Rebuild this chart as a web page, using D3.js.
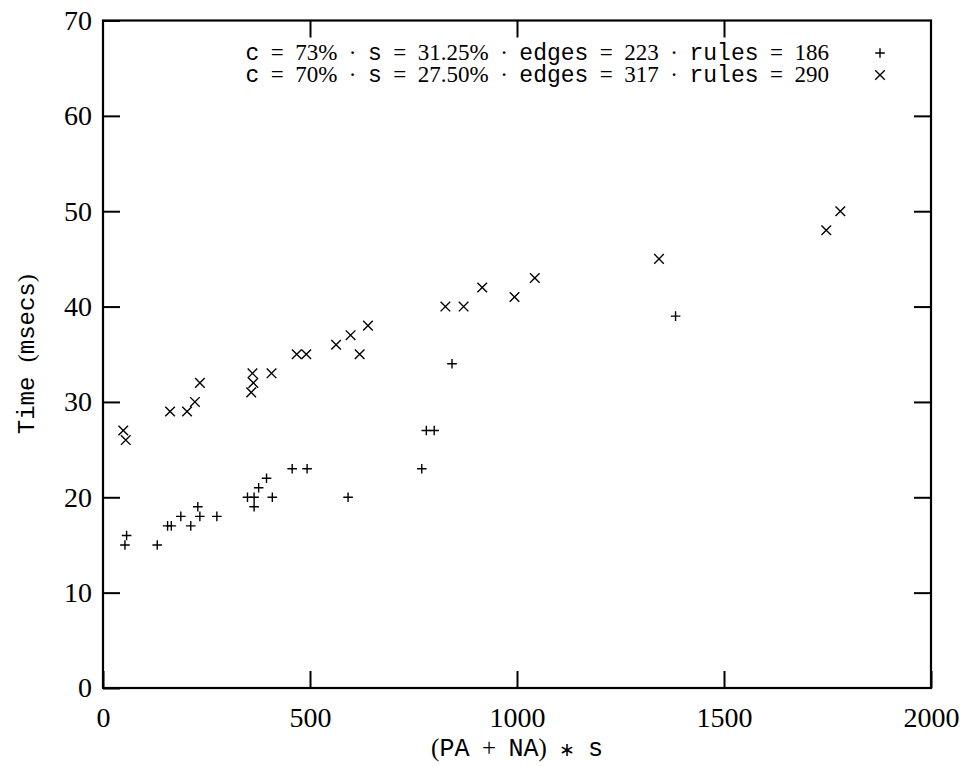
<!DOCTYPE html>
<html>
<head>
  <meta charset="utf-8">
  <title>time vs (PA+NA)*s</title>
  <script src="https://cdn.jsdelivr.net/npm/d3@7"></script>
  <style>
    body { margin: 0; background: #fff; }
    .serif { font-family: 'Liberation Serif', 'Times New Roman', serif; }
    .tt { font-family: 'Liberation Mono', 'DejaVu Sans Mono', monospace; }
  </style>
</head>
<body>
<div id="chart"></div>
<script>
  // c = 73%, s = 31.25% (plus marks)
  const plusX = [53, 57, 131, 156, 165, 188, 212, 229, 234, 275, 349, 365, 365, 376, 395, 409, 457, 493, 592, 770, 781, 800, 843, 1383]
  const plusY = [15, 16, 15, 17, 17, 18, 17, 19, 18, 18, 20, 20, 19, 21, 22, 20, 23, 23, 20, 23, 27, 27, 34, 39]
  // c = 70%, s = 27.50% (cross marks)
  const crossX = [49, 55, 162, 203, 222, 234, 358, 363, 361, 407, 468, 491, 563, 598, 620, 640, 827, 871, 916, 994, 1043, 1343, 1747, 1781]
  const crossY = [27, 26, 29, 29, 30, 32, 31, 32, 33, 33, 35, 35, 36, 37, 35, 38, 40, 40, 42, 41, 43, 45, 48, 50]

  const xTicks = [0, 500, 1000, 1500, 2000]
  const yTicks = [0, 10, 20, 30, 40, 50, 60, 70]

  // legend entries: [c, s, edges, rules]
  const legendC = ["73", "70"]
  const legendS = ["31.25", "27.50"]
  const legendEdges = ["223", "317"]
  const legendRules = ["186", "290"]

  const W = 960, H = 766
  const margin = { top: 20.5, right: 29, bottom: 78, left: 103 }
  const iw = W - margin.left - margin.right
  const ih = H - margin.top - margin.bottom
  const tick = 17

  const svg = d3.select("#chart").append("svg")
    .attr("width", W).attr("height", H)
  const g = svg.append("g")
    .attr("transform", `translate(${margin.left},${margin.top})`)

  const x = d3.scaleLinear().domain([0, 2000]).range([0, iw])
  const y = d3.scaleLinear().domain([0, 70]).range([ih, 0])

  //軸
  function styleAxis(sel) {
    sel.select(".domain").remove()
    sel.selectAll(".tick line").attr("stroke", "#000").attr("stroke-width", 2)
    sel.selectAll(".tick text").attr("class", "serif").attr("font-size", 28).attr("fill", "#000")
  }
  g.append("g").attr("transform", `translate(0,${ih})`)
    .call(d3.axisBottom(x).tickValues(xTicks).tickSize(-tick).tickPadding(19).tickFormat(d3.format("d")))
    .call(styleAxis)
  g.append("g")
    .call(d3.axisTop(x).tickValues(xTicks.slice(1, -1)).tickSize(-tick).tickFormat(""))
    .call(styleAxis)
  g.append("g")
    .call(d3.axisLeft(y).tickValues(yTicks).tickSize(-tick).tickPadding(11).tickFormat(d3.format("d")))
    .call(styleAxis)
  g.append("g").attr("transform", `translate(${iw},0)`)
    .call(d3.axisRight(y).tickValues(yTicks.slice(1, -1)).tickSize(-tick).tickFormat(""))
    .call(styleAxis)

  g.append("rect")
    .attr("x", 0).attr("y", 0).attr("width", iw).attr("height", ih)
    .attr("fill", "none").attr("stroke", "#000").attr("stroke-width", 2.2)

  //マーカー
  const r = 4.8
  const plusPath = `M${-r},0H${r}M0,${-r}V${r}`
  const crossPath = `M${-r},${-r}L${r},${r}M${-r},${r}L${r},${-r}`

  g.append("g").selectAll("path").data(plusX.map((v, i) => [v, plusY[i]])).join("path")
    .attr("transform", d => `translate(${x(d[0])},${y(d[1])})`)
    .attr("d", plusPath).attr("stroke", "#000").attr("stroke-width", 1.4).attr("fill", "none")
  g.append("g").selectAll("path").data(crossX.map((v, i) => [v, crossY[i]])).join("path")
    .attr("transform", d => `translate(${x(d[0])},${y(d[1])})`)
    .attr("d", crossPath).attr("stroke", "#000").attr("stroke-width", 1.4).attr("fill", "none")

  //凡例
  const legY = [60, 82]
  const legSym = [plusPath, crossPath]
  const sp = "\u2002"
  legendC.forEach((c, i) => {
    const t = svg.append("text")
      .attr("x", 829).attr("y", legY[i])
      .attr("text-anchor", "end").attr("font-size", 23).attr("fill", "#000")
    const parts = [
      ["tt", "c"], ["serif", `${sp}=${sp}${c}%${sp}·${sp}`],
      ["tt", "s"], ["serif", `${sp}=${sp}${legendS[i]}%${sp}·${sp}`],
      ["tt", "edges"], ["serif", `${sp}=${sp}${legendEdges[i]}${sp}·${sp}`],
      ["tt", "rules"], ["serif", `${sp}=${sp}${legendRules[i]}`]
    ]
    parts.forEach(p => t.append("tspan").attr("class", p[0]).text(p[1]))
    svg.append("path")
      .attr("transform", `translate(880,${legY[i] - 7})`)
      .attr("d", legSym[i]).attr("stroke", "#000").attr("stroke-width", 1.4).attr("fill", "none")
  })

  //軸ラベル
  const xl = svg.append("text")
    .attr("x", margin.left + iw / 2).attr("y", 756)
    .attr("text-anchor", "middle").attr("font-size", 25)
  xl.append("tspan").attr("class", "serif").text("(")
  xl.append("tspan").attr("class", "tt").text("PA")
  xl.append("tspan").attr("class", "serif").text(`${sp}+${sp}`)
  xl.append("tspan").attr("class", "tt").text("NA")
  xl.append("tspan").attr("class", "serif").text(`)${sp}`)
  xl.append("tspan").attr("class", "serif").attr("font-size", 19).text("∗")
  xl.append("tspan").attr("class", "serif").text(sp)
  xl.append("tspan").attr("class", "tt").text("s")

  const yl = svg.append("text")
    .attr("transform", `translate(34,${margin.top + ih / 2}) rotate(-90)`)
    .attr("text-anchor", "middle").attr("font-size", 24)
  yl.append("tspan").attr("class", "tt").text("Time ")
  yl.append("tspan").attr("class", "serif").text("(")
  yl.append("tspan").attr("class", "tt").text("msecs")
  yl.append("tspan").attr("class", "serif").text(")")
</script>
</body>
</html>
